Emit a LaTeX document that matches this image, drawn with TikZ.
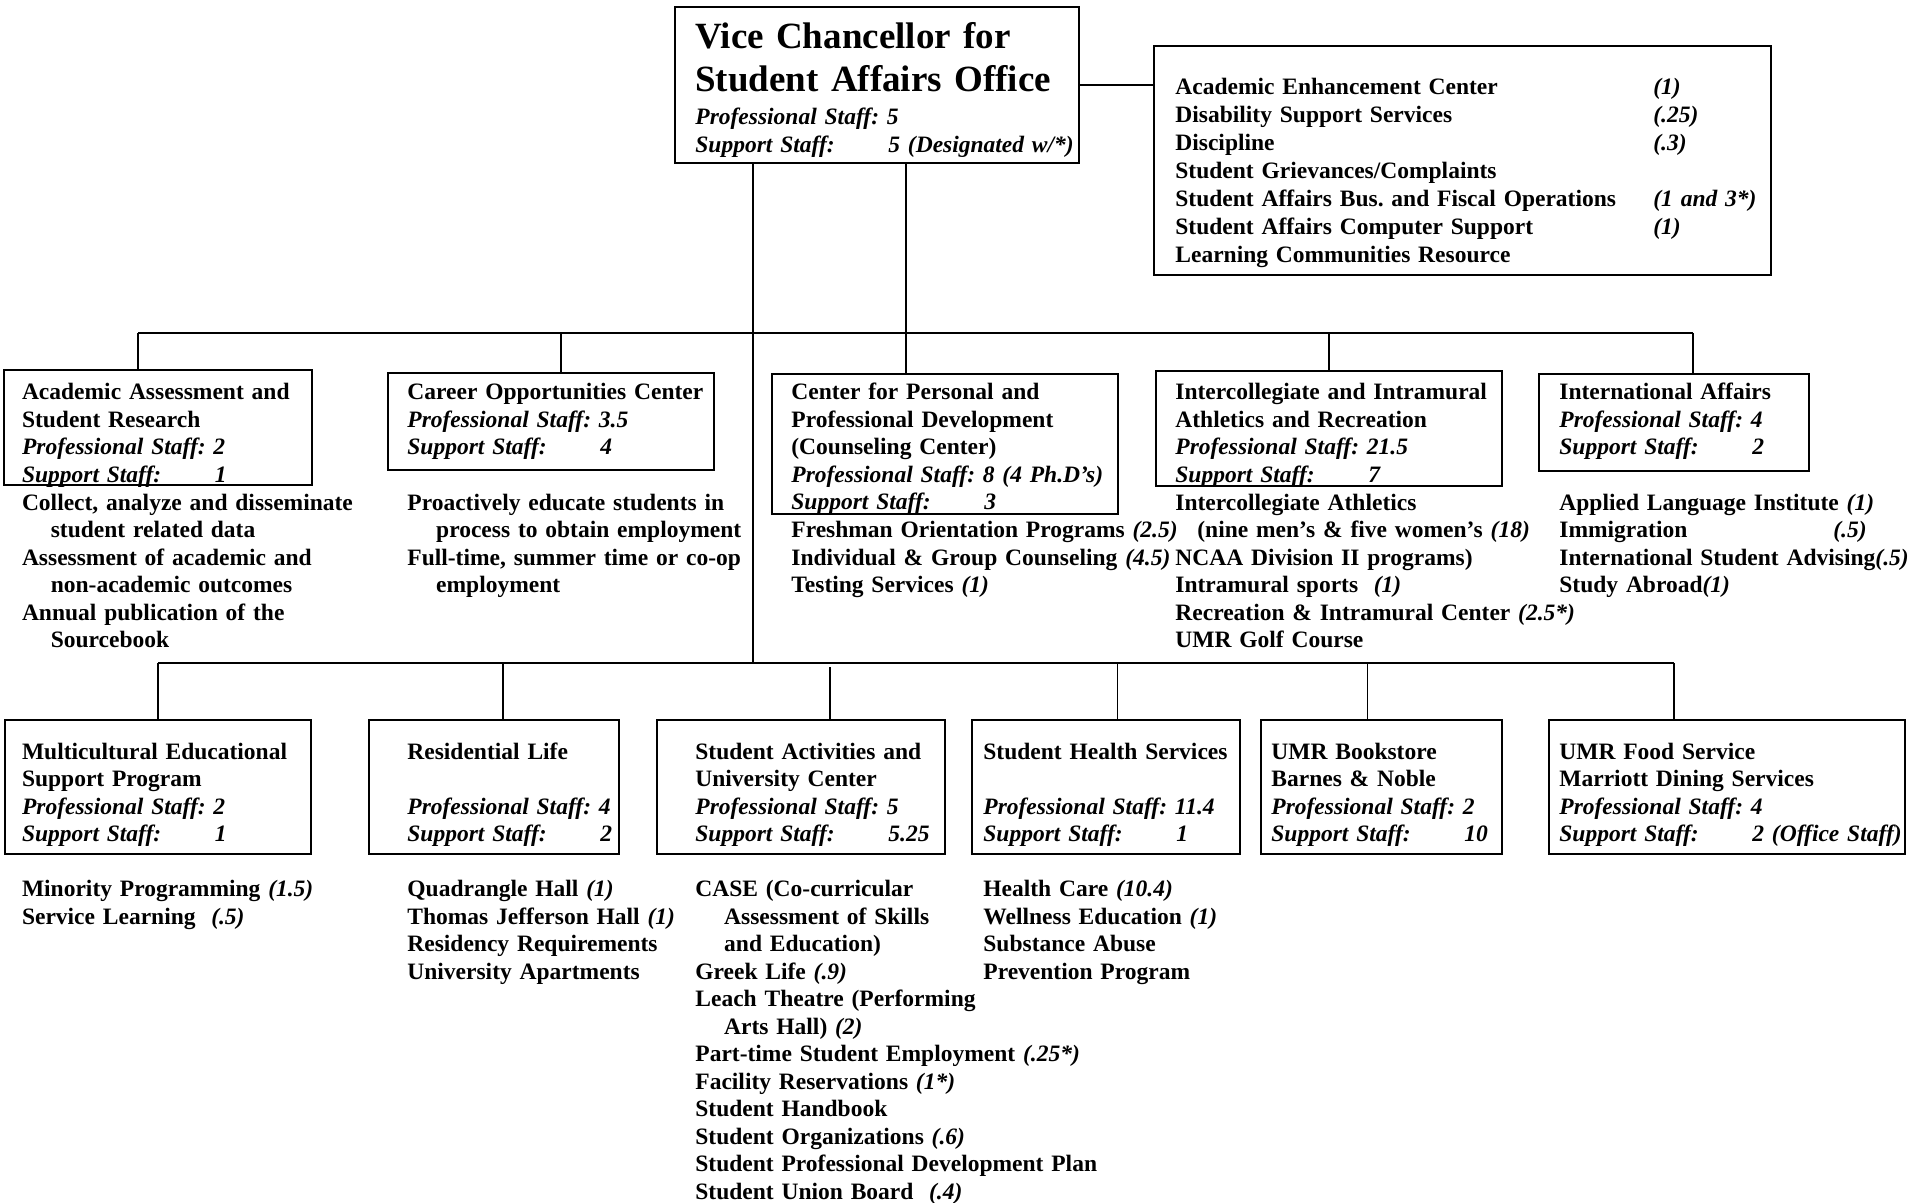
\documentclass[tikz,border=0pt]{standalone}
\usepackage{fontspec}
\setmainfont{Liberation Serif}
\usetikzlibrary{fit}
\frenchspacing

\newcommand{\orgfont}{\fontsize{11.75}{13.75}\selectfont\bfseries}
\newcommand{\sidefont}{\fontsize{11.75}{14}\selectfont\bfseries}
\newcommand{\titlefont}{\fontsize{18.5}{21.5}\selectfont\bfseries}
\newcommand{\prof}[1]{\textit{Professional Staff: #1}}
\newcommand{\supp}[1]{\textit{\makebox[96.5pt][l]{Support Staff:}#1}}
\newcommand{\fte}[1]{\textit{(#1)}}
\newcommand{\ind}{\hspace*{14.4pt}}
\newcommand{\row}[2]{\makebox[239pt][l]{#1}\textit{#2}}

\begin{document}
\begin{tikzpicture}[
  x=1pt, y=-1pt,
  unit/.style={draw, line width=1pt, inner sep=0pt},
  txt/.style={anchor=base west, inner sep=0pt, text width=330pt, align=left, font=\orgfont},
  link/.style={line width=0.75pt}
]
% coordinates in pt, measured from the top left corner
\path[use as bounding box, fill=white] (0,0) rectangle (963.5,601.5);

% office and its own services
\node[unit, fit={(337.5,3.5) (539.5,81.5)}] (vc) {};
\node[txt, font=\titlefont] (vc-t) at (347.5,24.5) {Vice Chancellor for\\Student Affairs Office};
\node[txt] (vc-s) at (347.5,62.4) {\prof{5}\\\supp{5 (Designated w/*)}};

\node[unit, fit={(577,23) (885.5,137.5)}] (side) {};
\node[txt, font=\sidefont] (side-t) at (587.5,47.2) {\row{Academic Enhancement Center}{(1)}\\
  \row{Disability Support Services}{(.25)}\\
  \row{Discipline}{(.3)}\\
  Student Grievances/Complaints\\
  \row{Student Affairs Bus. and Fiscal Operations}{(1 and 3*)}\\
  \row{Student Affairs Computer Support}{(1)}\\
  Learning Communities Resource};

% upper row
\node[unit, fit={(2,185) (155.75,242.5)}] (aasr) {};
\node[unit, fit={(194,186.5) (357,235)}] (career) {};
\node[unit, fit={(385.75,187) (559,257)}] (cppd) {};
\node[unit, fit={(578,185.35) (750.8,242.85)}] (athl) {};
\node[unit, fit={(769.5,187) (904.4,235.5)}] (intl) {};

\node[txt] (aasr-t) at (10.8,200) {Academic Assessment and\\Student Research\\\prof{2}\\\supp{1}};
\node[txt] (aasr-l) at (10.8,255) {Collect, analyze and disseminate\\\ind student related data\\
  Assessment of academic and\\\ind non-academic outcomes\\Annual publication of the\\\ind Sourcebook};

\node[txt] (career-t) at (203.5,200) {Career Opportunities Center\\\prof{3.5}\\\supp{4}};
\node[txt] (career-l) at (203.5,255) {Proactively educate students in\\\ind process to obtain employment\\
  Full-time, summer time or co-op\\\ind employment};

\node[txt] (cppd-t) at (395.5,200) {Center for Personal and\\Professional Development\\(Counseling Center)\\
  \prof{8 (4 Ph.D’s)}\\\supp{3}};
\node[txt] (cppd-l) at (395.5,268.75) {Freshman Orientation Programs \fte{2.5}\\
  Individual \& Group Counseling \fte{4.5}\\Testing Services \fte{1}};

\node[txt] (athl-t) at (587.5,200) {Intercollegiate and Intramural\\Athletics and Recreation\\\prof{21.5}\\\supp{7}};
\node[txt] (athl-l) at (587.5,255) {Intercollegiate Athletics\\
  \hspace*{11pt}(nine men’s \& five women’s \fte{18}\\NCAA Division II programs)\\
  Intramural sports\ \ \fte{1}\\Recreation \& Intramural Center \fte{2.5*}\\UMR Golf Course};

\node[txt] (intl-t) at (779.5,200) {International Affairs\\\prof{4}\\\supp{2}};
\node[txt] (intl-l) at (779.5,255) {Applied Language Institute \fte{1}\\
  \makebox[137pt][l]{Immigration}\fte{.5}\\International Student Advising\fte{.5}\\Study Abroad\fte{1}};

% lower row
\node[unit, fit={(2.5,360) (155.5,427)}] (mesp) {};
\node[unit, fit={(184.3,360) (309.25,427)}] (resl) {};
\node[unit, fit={(328.25,360) (472.5,427)}] (sauc) {};
\node[unit, fit={(485.75,360) (620,427)}] (shs) {};
\node[unit, fit={(630.5,360) (750.75,427)}] (book) {};
\node[unit, fit={(774.35,360) (952.5,427)}] (food) {};

\node[txt] (mesp-t) at (10.8,379.5) {Multicultural Educational\\Support Program\\\prof{2}\\\supp{1}};
\node[txt] (mesp-l) at (10.8,448.25) {Minority Programming \fte{1.5}\\Service Learning\ \ \fte{.5}};

\node[txt] (resl-t) at (203.5,379.5) {Residential Life\\\mbox{}\\\prof{4}\\\supp{2}};
\node[txt] (resl-l) at (203.5,448.25) {Quadrangle Hall \fte{1}\\Thomas Jefferson Hall \fte{1}\\
  Residency Requirements\\University Apartments};

\node[txt] (sauc-t) at (347.5,379.5) {Student Activities and\\University Center\\\prof{5}\\\supp{5.25}};
\node[txt] (sauc-l) at (347.5,448.25) {CASE (Co-curricular\\\ind Assessment of Skills\\\ind and Education)\\
  Greek Life \fte{.9}\\Leach Theatre (Performing\\\ind Arts Hall) \fte{2}\\
  Part-time Student Employment \fte{.25*}\\Facility Reservations \fte{1*}\\Student Handbook\\
  Student Organizations \fte{.6}\\Student Professional Development Plan\\Student Union Board\ \ \fte{.4}};

\node[txt] (shs-t) at (491.5,379.5) {Student Health Services\\\mbox{}\\\prof{11.4}\\\supp{1}};
\node[txt] (shs-l) at (491.5,448.25) {Health Care \fte{10.4}\\Wellness Education \fte{1}\\
  Substance Abuse\\Prevention Program};

\node[txt] (book-t) at (635.5,379.5) {UMR Bookstore\\Barnes \& Noble\\\prof{2}\\\supp{10}};
\node[txt] (food-t) at (779.5,379.5) {UMR Food Service\\Marriott Dining Services\\\prof{4}\\\supp{2 (Office Staff)}};

% bus points
\coordinate (aasr-up) at (69,166.5);
\coordinate (career-up) at (280.5,166.5);
\coordinate (cppd-up) at (453,166.5);
\coordinate (athl-up) at (664.5,166.5);
\coordinate (intl-up) at (846.5,166.5);
\coordinate (mesp-up) at (79,331.5);
\coordinate (resl-up) at (251.5,331.5);
\coordinate (hub) at (376.5,331.5);
\coordinate (sauc-up) at (415,331.5);
\coordinate (shs-up) at (558.75,331.5);
\coordinate (book-up) at (683.7,331.5);
\coordinate (food-up) at (837,331.5);

% connectors
\draw[link] (vc.east) -- (vc.east -| side.west);
\draw[link] (cppd-up |- vc.south) -- (cppd-up |- cppd.north);
\draw[link] (hub |- vc.south) -- (hub);
\draw[link] (aasr-up) -- (intl-up);
\draw[link] (mesp-up) -- (food-up);
\foreach \u in {aasr,career,athl,intl,mesp,resl,shs,book,food}
  \draw[link] (\u-up) -- (\u-up |- \u.north);
\draw[link] ([yshift=-2pt]sauc-up) -- (sauc-up |- sauc.north);
\end{tikzpicture}
\end{document}
